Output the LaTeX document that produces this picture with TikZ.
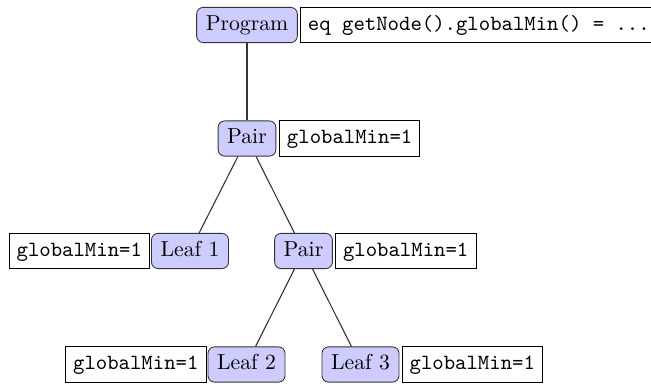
\documentclass[tikz,border=0pt]{standalone}
\usepackage{xcolor}
\begin{document}
\begin{tikzpicture}[x=0.4608pt, y=-0.4608pt,
  astnode/.style={draw=black!80, fill=blue!20, rounded corners=3pt, inner xsep=4.2pt,
    minimum height=16.2pt, text height=7pt, text depth=2pt, font=\normalsize},
  attrbox/.style={draw=black, fill=white, inner xsep=3.5pt,
    minimum height=16.2pt, text height=7pt, text depth=2pt, font=\ttfamily},
  edgeline/.style={draw=black!80, line width=0.5pt}]
\useasboundingbox (0,0) rectangle (651,383);
\node[astnode] (prog) at (247,25) {Program};
\node[astnode] (pair1) at (247,138.5) {Pair};
\node[astnode] (leaf1) at (190,251) {Leaf 1};
\node[astnode] (pair2) at (303.5,251) {Pair};
\node[astnode] (leaf2) at (246.5,364.5) {Leaf 2};
\node[astnode] (leaf3) at (360.5,364.5) {Leaf 3};
\draw[edgeline] (prog) -- (pair1);
\draw[edgeline] (pair1) -- (leaf1);
\draw[edgeline] (pair1) -- (pair2);
\draw[edgeline] (pair2) -- (leaf2);
\draw[edgeline] (pair2) -- (leaf3);
\node[attrbox, anchor=west, xshift=1pt] (aprog) at (prog.east) {eq getNode().globalMin() = ...};
\node[attrbox, anchor=west, xshift=1.2pt] (apair1) at (pair1.east) {globalMin=1};
\node[attrbox, anchor=east, xshift=-0.5pt] (aleaf1) at (leaf1.west) {globalMin=1};
\node[attrbox, anchor=west, xshift=1pt] (apair2) at (pair2.east) {globalMin=1};
\node[attrbox, anchor=east, xshift=-0.5pt] (aleaf2) at (leaf2.west) {globalMin=1};
\node[attrbox, anchor=west, xshift=1pt] (aleaf3) at (leaf3.east) {globalMin=1};
\end{tikzpicture}
\end{document}
